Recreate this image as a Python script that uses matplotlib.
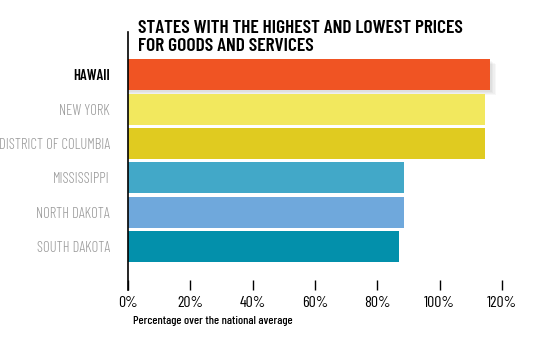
import matplotlib.pyplot as plt

states = ["HAWAII", "NEW YORK", "DISTRICT OF COLUMBIA", "MISSISSIPPI", "NORTH DAKOTA", "SOUTH DAKOTA"]
values = [116.3, 114.4, 114.4, 88.7, 88.7, 87.1]
colors = ["#F05423", "#F2E85E", "#E0CB20", "#42A8C8", "#6FA8DC", "#0390AB"]
xticks = [0, 20, 40, 60, 80, 100, 120]

plt.rcParams["font.family"] = ["Barlow Condensed", "Oswald", "DejaVu Sans"]

fig = plt.figure(figsize=(5.42, 3.37), dpi=100)
ax = fig.add_axes([128/542, 47/337, 374/542, 258/337])

ypos = list(range(len(states)))
# soft shadow under the Hawaii bar
for k in range(4):
    ax.barh(ypos[0] + 0.05 + 0.03*k, values[0] + 0.4 + 0.5*k, height=0.9, color="#000000", alpha=0.03)
ax.barh(ypos, values, height=0.9, color=colors)

ax.set_xlim(0, 120)
ax.set_ylim(5 + 1.27, -1.25)
ax.set_yticks(ypos)
ax.set_yticklabels(states, fontsize=10.6)
for i, lab in enumerate(ax.get_yticklabels()):
    if i == 0:
        lab.set_color("black")
        lab.set_fontweight(600)
    else:
        lab.set_color("#999999")
        lab.set_fontweight(300)
ax.tick_params(axis="y", length=0, pad=13)

ax.set_xticks(xticks)
ax.set_xticklabels([f"{v}%" for v in xticks], fontsize=11.5, fontweight=400)
ax.tick_params(axis="x", direction="in", length=7, width=1, pad=4)

for s in ["top", "right", "bottom"]:
    ax.spines[s].set_visible(False)
ax.spines["left"].set_linewidth(1.2)

fig.text(138/542, 1 - 20/337, "STATES WITH THE HIGHEST AND LOWEST PRICES\nFOR GOODS AND SERVICES",
         fontsize=14, fontweight=600, va="top", ha="left", linespacing=1.1)
fig.text(133/542, 1 - 321/337, "Percentage over the national average",
         fontsize=8.8, fontweight=500, va="center", ha="left")

fig.savefig("out.png", dpi=100)
